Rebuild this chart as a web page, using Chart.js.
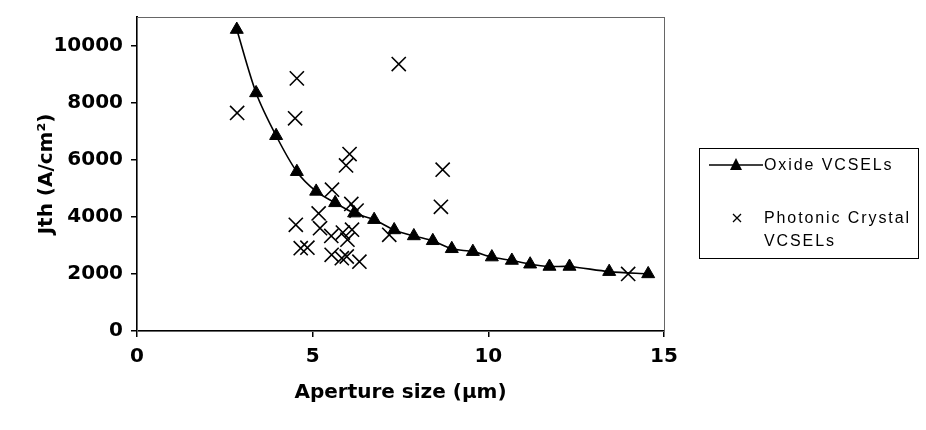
<!DOCTYPE html>
<html>
<head>
<meta charset="utf-8">
<script src="https://cdn.jsdelivr.net/npm/chart.js@4/dist/chart.umd.min.js"></script>
<style>
  html, body { margin: 0; padding: 0; background: #fff; }
  #wrap { position: relative; width: 926px; height: 430px; }
  #legend {
    position: absolute; left: 699px; top: 148px; width: 220px; height: 111px;
    border: 1px solid #000; box-sizing: border-box;
    font-family: "Liberation Sans", Arial, sans-serif; font-size: 16px;
    letter-spacing: 1.9px; color: #000;
  }
  #legend .row { position: absolute; left: 64px; white-space: nowrap; line-height: 18px; }
  #legend svg { position: absolute; }
</style>
</head>
<body>
<div id="wrap">
  <canvas id="chart" width="926" height="430"></canvas>
  <div id="legend">
    <svg style="left:9px;top:8px" width="54" height="16">
      <line x1="0" y1="8" x2="54" y2="8" stroke="#000" stroke-width="1.5"/>
      <polygon points="27,1 33,13 21,13" fill="#000"/>
    </svg>
    <div class="row" style="top:7px">Oxide VCSELs</div>
    <svg style="left:32px;top:64px" width="10" height="10">
      <path d="M1,1 L9,9 M9,1 L1,9" stroke="#000" stroke-width="1.3"/>
    </svg>
    <div class="row" style="top:60px">Photonic Crystal</div>
    <div class="row" style="top:83px">VCSELs</div>
  </div>
</div>
<script>
// Oxide VCSELs (triângulos ligados por linha)
const oxideX = [2.84, 3.39, 3.96, 4.55, 5.10, 5.64, 6.18, 6.75, 7.32, 7.88, 8.42, 8.96, 9.56, 10.10, 10.67, 11.19, 11.74, 12.31, 13.44, 14.55];
const oxideY = [10560, 8340, 6840, 5580, 4890, 4490, 4130, 3900, 3540, 3330, 3160, 2880, 2780, 2590, 2470, 2340, 2260, 2260, 2080, 2000];

// Photonic Crystal VCSELs (cruzes)
const pcX = [2.85, 4.55, 4.50, 7.45, 6.05, 5.95, 5.55, 8.70, 8.65, 6.10, 6.25, 5.17, 4.52, 5.21, 5.53, 5.86, 6.12, 5.99, 7.18, 4.66, 4.85, 5.54, 5.83, 5.97, 6.33, 13.98];
const pcY = [7640, 8850, 7450, 9350, 6200, 5800, 4950, 5650, 4350, 4450, 4220, 4120, 3720, 3600, 3330, 3450, 3550, 3200, 3370, 2900, 2920, 2670, 2550, 2610, 2430, 2000];

const xTicks = [0, 5, 10, 15];
const yTicks = [0, 2000, 4000, 6000, 8000, 10000];

const tickFont = { family: 'DejaVu Sans', size: 20, weight: 'bold' };

// moldura cinza em volta da área do gráfico
const frame = {
    id: 'frame',
    beforeDatasetsDraw(chart) {
        const { ctx, chartArea: a } = chart;
        ctx.save();
        ctx.strokeStyle = '#666';
        ctx.lineWidth = 1;
        ctx.strokeRect(a.left + 0.5, a.top + 0.5, a.right - a.left, a.bottom - a.top);
        ctx.restore();
    }
};

new Chart(document.getElementById('chart'), {
    type: 'scatter',
    data: {
        datasets: [{
            label: 'Oxide VCSELs',
            data: oxideX.map((x, i) => ({ x: x, y: oxideY[i] })),
            showLine: true,
            tension: 0.3,
            borderColor: '#000',
            borderWidth: 1.6,
            pointStyle: 'triangle',
            pointRadius: 7.5,
            pointBackgroundColor: '#000',
            pointBorderColor: '#000',
            pointBorderWidth: 1
        }, {
            label: 'Photonic Crystal VCSELs',
            data: pcX.map((x, i) => ({ x: x, y: pcY[i] })),
            showLine: false,
            pointStyle: 'crossRot',
            pointRadius: 10,
            pointBorderColor: '#000',
            pointBorderWidth: 1.6
        }]
    },
    options: {
        responsive: false,
        animation: false,
        layout: { padding: { top: 17, right: 262, left: 0, bottom: 0 } },
        plugins: {
            legend: { display: false },
            tooltip: { enabled: false }
        },
        scales: {
            x: {
                type: 'linear',
                min: 0,
                max: 15,
                afterBuildTicks: s => { s.ticks = xTicks.map(v => ({ value: v })); },
                afterFit: s => { s.height = 99; },
                grid: { drawOnChartArea: false, color: '#000', tickLength: 6, lineWidth: 1.5 },
                border: { color: '#000', width: 2 },
                ticks: { color: '#000', font: tickFont, padding: 8, maxRotation: 0, callback: v => String(v) },
                title: {
                    display: true,
                    text: 'Aperture size (µm)',
                    color: '#000',
                    font: tickFont,
                    padding: { top: 0, bottom: 25 }
                }
            },
            y: {
                type: 'linear',
                min: 0,
                max: 11000,
                afterBuildTicks: s => { s.ticks = yTicks.map(v => ({ value: v })); },
                afterFit: s => { s.width = 137; s.paddingTop = 0; s.paddingBottom = 0; },
                grid: { drawOnChartArea: false, color: '#000', tickLength: 6, lineWidth: 1.5 },
                border: { color: '#000', width: 2 },
                ticks: { color: '#000', font: tickFont, padding: 8, callback: v => String(v) },
                title: {
                    display: true,
                    text: 'Jth (A/cm²)',
                    color: '#000',
                    font: tickFont,
                    padding: { top: 35, bottom: 0 }
                }
            }
        }
    },
    plugins: [frame]
});
</script>
</body>
</html>
